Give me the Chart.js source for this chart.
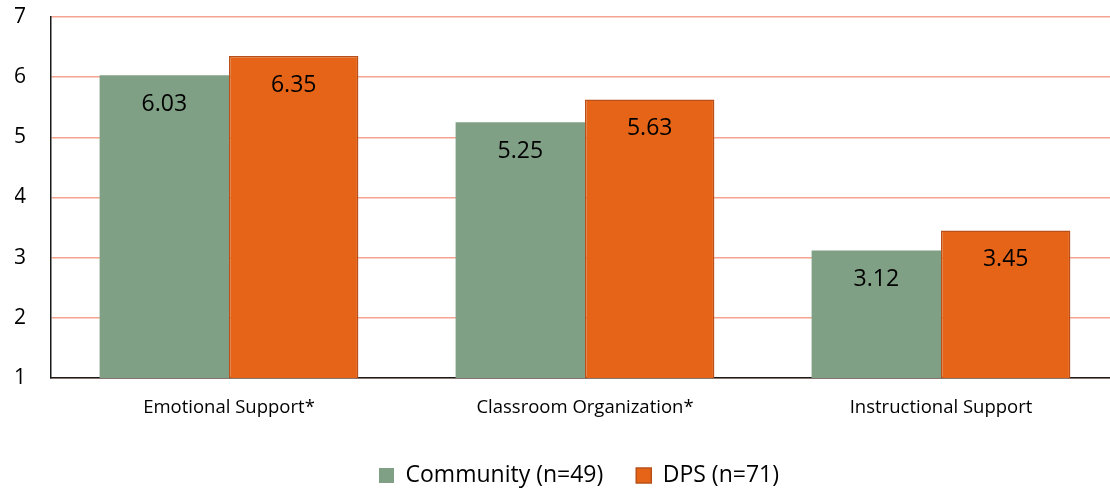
<!DOCTYPE html>
<html>
<head>
<meta charset="utf-8">
<script src="https://cdn.jsdelivr.net/npm/chart.js@4"></script>
<style>
  html, body { margin: 0; padding: 0; background: #fff; overflow: hidden; }
  #wrap { width: 1120px; height: 488px; }
</style>
</head>
<body>
<div id="wrap"><canvas id="c" width="1120" height="488"></canvas></div>
<script>
const categories = ["Emotional Support*", "Classroom Organization*", "Instructional Support"];
const communityLabel = "Community (n=49)";
const dpsLabel = "DPS (n=71)";
const communityValues = [6.03, 5.25, 3.12];
const dpsValues = [6.35, 5.63, 3.45];
const yTicks = [1, 2, 3, 4, 5, 6, 7];

const FONT = "'Open Sans', sans-serif";

const valueLabels = {
  id: 'valueLabels',
  afterDatasetsDraw(chart) {
    const ctx = chart.ctx;
    ctx.save();
    ctx.font = "23px " + FONT;
    ctx.fillStyle = "#000";
    ctx.textAlign = "center";
    ctx.textBaseline = "middle";
    chart.data.datasets.forEach((ds, i) => {
      chart.getDatasetMeta(i).data.forEach((bar, j) => {
        ctx.fillText(ds.data[j].toFixed(2), bar.x, bar.y + 29);
      });
    });
    ctx.restore();
  }
};

const legendShift = {
  id: 'legendShift',
  afterLayout(chart) {
    const lg = chart.legend;
    if (lg) { lg.left += 12; lg.right += 12; lg.top += 12; lg.bottom += 12; }
  }
};

new Chart(document.getElementById('c'), {
  type: 'bar',
  data: {
    labels: categories,
    datasets: [
      {
        label: communityLabel,
        data: communityValues,
        backgroundColor: '#7FA085',
        borderColor: '#7FA085',
        borderWidth: 0,
        categoryPercentage: 0.727,
        barPercentage: 1.0
      },
      {
        label: dpsLabel,
        data: dpsValues,
        backgroundColor: '#E66417',
        borderColor: '#B9501A',
        borderWidth: 1.5,
        borderSkipped: false,
        categoryPercentage: 0.727,
        barPercentage: 1.0
      }
    ]
  },
  options: {
    responsive: false,
    animation: false,
    layout: { padding: { left: 15, right: 1, top: 17, bottom: 3 } },
    plugins: {
      tooltip: { enabled: false },
      legend: {
        position: 'bottom',
        labels: {
          font: { family: FONT, size: 23 },
          color: '#000',
          boxWidth: 15,
          boxHeight: 15,
          padding: 33,
          generateLabels(chart) {
            return chart.data.datasets.map((ds, i) => ({
              text: ds.label,
              fillStyle: ds.backgroundColor,
              strokeStyle: ds.borderColor,
              lineWidth: i === 1 ? 1.5 : 0,
              hidden: false,
              datasetIndex: i
            }));
          }
        }
      }
    },
    scales: {
      x: {
        grid: { display: false, drawTicks: false },
        border: { display: true, color: '#1a1a1a', width: 1.5 },
        ticks: { font: { family: FONT, size: 18.5 }, color: '#000', padding: 19 },
        afterFit(axis) { axis.height = 41; axis.paddingLeft = 0; axis.paddingRight = 0; }
      },
      y: {
        min: 1,
        max: 7,
        ticks: { stepSize: 1, font: { family: FONT, size: 21 }, color: '#000', padding: 25 },
        afterBuildTicks(axis) { axis.ticks = yTicks.map(v => ({ value: v })); },
        afterFit(axis) { axis.width = 36; axis.paddingTop = 0; axis.paddingBottom = 0; },
        grid: { color: '#F4A490', lineWidth: 1.5, drawTicks: false },
        border: { display: true, color: '#1a1a1a', width: 1.5 }
      }
    }
  },
  plugins: [valueLabels, legendShift]
});
</script>
</body>
</html>
